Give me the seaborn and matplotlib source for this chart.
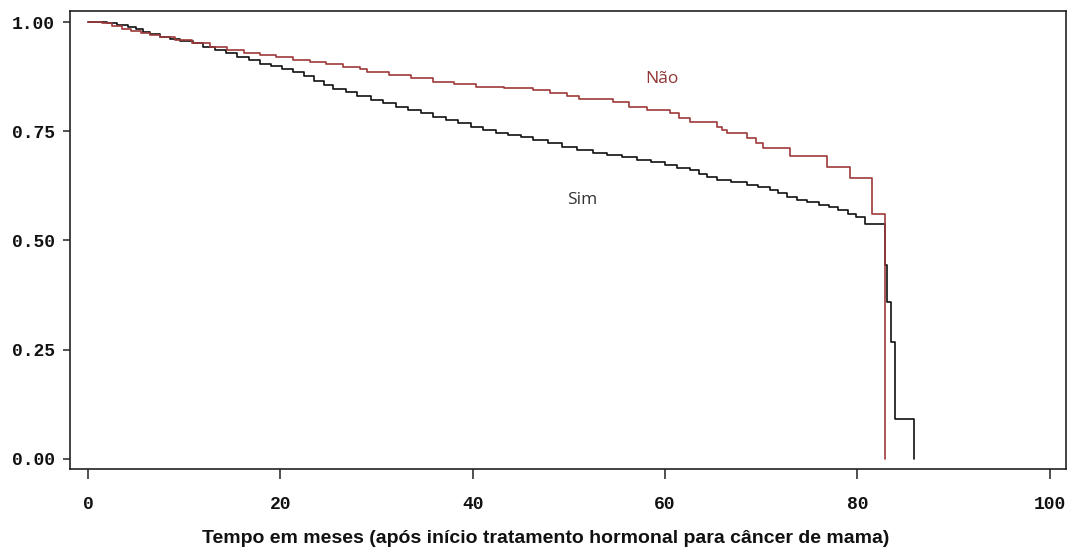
import matplotlib
matplotlib.use("Agg")
import matplotlib.pyplot as plt
import seaborn as sns
import pandas as pd

# Kaplan-Meier estimates: time (months) and survival after each event
tempo_sim = [0.0, 2.0, 3.0, 4.2, 5.0, 5.7, 6.5, 7.5, 8.5, 9.6, 10.9, 12.0, 13.2, 14.4,
             15.5, 16.7, 17.9, 19.0, 20.2, 21.3, 22.5, 23.5, 24.5, 25.5, 26.8, 28.0,
             29.4, 30.7, 32.0, 33.3, 34.6, 35.9, 37.2, 38.5, 39.8, 41.1, 42.4, 43.7,
             45.0, 46.3, 47.8, 49.3, 50.9, 52.5, 54.0, 55.5, 57.1, 58.5, 60.0, 61.3,
             62.6, 63.5, 64.4, 65.4, 66.9, 68.5, 69.7, 70.9, 71.8, 72.7, 73.7, 74.8,
             76.0, 77.1, 78.0, 79.0, 79.9, 80.8, 82.85, 83.13, 83.55, 83.96, 85.86]
surv_sim = [1.000, 0.997, 0.993, 0.988, 0.983, 0.978, 0.972, 0.966, 0.961, 0.956, 0.951,
            0.943, 0.936, 0.928, 0.921, 0.913, 0.905, 0.899, 0.892, 0.886, 0.876, 0.866,
            0.856, 0.847, 0.839, 0.831, 0.822, 0.814, 0.806, 0.799, 0.791, 0.783, 0.776,
            0.768, 0.760, 0.753, 0.747, 0.741, 0.736, 0.730, 0.723, 0.715, 0.708, 0.700,
            0.695, 0.690, 0.684, 0.679, 0.673, 0.667, 0.661, 0.653, 0.645, 0.638, 0.633,
            0.627, 0.622, 0.616, 0.608, 0.600, 0.593, 0.588, 0.582, 0.577, 0.569, 0.561,
            0.554, 0.538, 0.444, 0.359, 0.268, 0.092, 0.000]

tempo_nao = [0.0, 1.5, 2.5, 3.5, 4.5, 5.5, 6.5, 7.5, 9.0, 10.8, 12.7, 14.5, 16.2, 17.9,
             19.6, 21.3, 23.1, 24.8, 26.5, 28.3, 29.0, 31.3, 33.6, 35.9, 38.1, 40.4,
             43.3, 46.3, 48.0, 49.8, 51.1, 54.6, 56.3, 58.1, 60.5, 61.5, 62.6, 65.4,
             65.9, 66.4, 68.5, 69.5, 70.2, 73.0, 76.8, 79.2, 81.5, 82.85]
surv_nao = [1.000, 0.997, 0.990, 0.985, 0.980, 0.975, 0.970, 0.966, 0.959, 0.951, 0.943,
            0.936, 0.930, 0.924, 0.919, 0.914, 0.909, 0.904, 0.898, 0.892, 0.886, 0.879,
            0.871, 0.863, 0.857, 0.852, 0.848, 0.844, 0.838, 0.831, 0.823, 0.818, 0.806,
            0.799, 0.791, 0.780, 0.772, 0.760, 0.753, 0.745, 0.734, 0.722, 0.711, 0.693,
            0.669, 0.642, 0.561, 0.000]

grupos = ["Sim", "Não"]
cores = {"Sim": "#111111", "Não": "#a03a3a"}
x_ticks = [0, 20, 40, 60, 80, 100]
y_ticks = [0.00, 0.25, 0.50, 0.75, 1.00]
y_tick_labels = ["0.00", "0.25", "0.50", "0.75", "1.00"]

df = pd.concat([
    pd.DataFrame({"tempo": tempo_sim, "sobrevida": surv_sim, "grupo": "Sim"}),
    pd.DataFrame({"tempo": tempo_nao, "sobrevida": surv_nao, "grupo": "Não"}),
], ignore_index=True)

sns.set_theme(style="white")
plt.rcParams["font.family"] = ["Liberation Sans", "DejaVu Sans"]

fig = plt.figure(figsize=(10.72, 5.55), dpi=100)
ax = fig.add_axes([0.0653, 0.155, 0.9291, 0.825])

sns.lineplot(data=df, x="tempo", y="sobrevida", hue="grupo", hue_order=grupos,
             palette=cores, drawstyle="steps-post", estimator=None, sort=False,
             linewidth=1.2, legend=False, ax=ax)

ax.set_xlim(-1.87, 101.7)
ax.set_ylim(-0.023, 1.025)
ax.set_xticks(x_ticks)
ax.set_yticks(y_ticks)
ax.set_yticklabels(y_tick_labels)

for s in ax.spines.values():
    s.set_visible(True)
    s.set_color("#222222")
    s.set_linewidth(1.2)

ax.tick_params(axis="x", direction="out", length=7.5, width=1.1, color="#222222",
               pad=12, bottom=True)
ax.tick_params(axis="y", direction="out", length=5, width=1.1, color="#222222",
               pad=6, left=True)
for lab in ax.get_xticklabels() + ax.get_yticklabels():
    lab.set_family(["Liberation Mono", "DejaVu Sans Mono"])
    lab.set_fontweight("bold")
    lab.set_fontsize(13)
    lab.set_color("#111111")

ax.set_xlabel("Tempo em meses (após início tratamento hormonal para câncer de mama)",
              fontsize=14, fontweight="bold", color="#111111")
ax.xaxis.set_label_coords(0.478, -0.134)
ax.set_ylabel("")

ax.text(59.7, 0.870, "Não", color="#8f3535", fontsize=12.5,
        family=["Open Sans", "DejaVu Sans"], ha="center", va="center")
ax.text(51.4, 0.593, "Sim", color="#333333", fontsize=12.5,
        family=["Open Sans", "DejaVu Sans"], ha="center", va="center")

fig.savefig("out.png", dpi=100, facecolor="white")
